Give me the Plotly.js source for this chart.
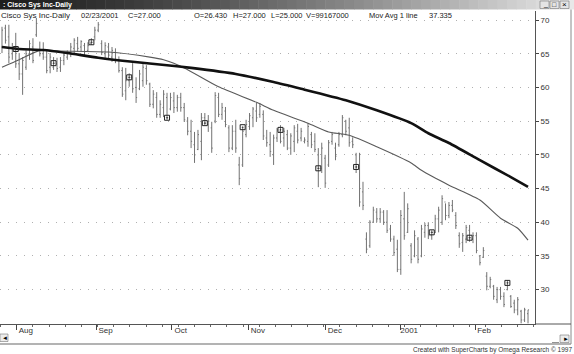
<!DOCTYPE html>
<html>
<head>
<meta charset="utf-8">
<script src="https://cdn.plot.ly/plotly-3.0.1.min.js"></script>
<style>html,body{margin:0;padding:0;background:#fff;}#chart{width:574px;height:354px;}</style>
</head>
<body>
<div id="chart"></div>
<script>
// ---- Data ----
const highs = [69.0,69.3,69.3,66.6,68.1,65.1,64.5,65.5,67.0,67.3,70.3,66.8,66.7,65.5,65.1,64.5,64.4,64.5,65.1,65.5,
66.6,67.3,67.5,67.0,66.6,66.7,67.3,69.0,69.7,67.0,66.7,66.6,66.0,65.8,64.6,63.0,62.9,62.1,63.6,61.5,
62.6,63.6,63.3,60.7,59.6,59.3,58.1,59.6,59.2,59.2,59.3,58.9,59.2,57.7,55.6,55.2,53.4,53.7,56.2,56.2,
55.9,54.9,59.3,59.2,57.7,57.1,54.4,54.4,55.2,49.7,54.1,55.2,56.2,57.1,57.7,57.7,56.6,53.7,53.4,53.0,
54.0,54.4,54.0,53.7,53.2,54.4,54.6,54.0,52.6,54.7,53.4,53.2,51.0,51.8,50.0,52.2,53.4,51.8,53.4,55.9,
55.2,55.5,52.6,50.3,50.3,46.0,38.5,40.3,42.3,42.1,42.1,41.8,41.8,39.6,38.0,37.4,41.8,44.5,42.8,36.9,
38.8,37.8,39.6,39.9,40.0,38.8,41.1,42.3,44.0,42.8,43.0,43.3,41.5,38.5,38.4,39.6,39.6,38.5,38.5,35.1,
36.3,32.6,31.9,30.7,30.4,30.4,29.6,31.4,29.2,28.5,28.9,27.0,27.3,27.0];
const lows = [65.1,66.5,63.6,64.1,62.9,61.1,58.9,62.6,64.1,63.6,67.5,64.6,64.1,62.1,62.1,62.6,62.3,62.3,63.3,64.1,
64.5,65.1,65.3,65.3,64.8,65.3,66.3,67.0,68.2,64.8,64.1,64.1,63.8,63.6,62.2,58.6,58.1,60.1,59.2,57.7,
59.6,60.1,60.4,57.1,56.9,55.5,55.5,55.6,55.2,56.6,56.2,56.4,56.4,54.9,52.9,51.0,48.8,50.7,49.2,54.4,
53.4,50.3,54.7,55.6,55.2,54.1,50.4,50.7,50.3,45.5,48.2,52.6,53.7,54.1,54.9,55.5,52.2,51.2,49.7,48.5,
51.9,51.7,51.2,50.7,50.0,50.4,51.7,52.0,51.7,51.2,51.0,50.4,45.2,47.3,45.1,48.2,51.5,49.2,51.2,52.6,
52.9,51.2,51.0,47.3,42.3,41.8,35.4,36.2,39.9,40.0,39.9,39.6,38.4,37.1,35.0,32.6,32.2,37.4,38.4,33.9,
34.8,33.9,34.8,37.7,37.5,37.4,38.4,38.5,39.6,40.3,40.6,41.5,39.0,36.2,35.6,36.9,37.1,36.9,35.4,33.6,
34.7,29.9,30.2,28.5,28.0,28.5,27.4,29.9,27.3,26.5,26.2,25.0,25.2,25.0];
const opens = [66.0,68.8,67.5,65.0,65.5,63.5,62.0,63.0,65.0,66.0,67.8,65.5,65.0,64.5,63.0,63.0,63.5,63.0,64.0,64.5,
65.0,65.8,66.5,66.0,66.2,65.5,66.5,67.5,68.5,66.5,65.0,66.0,64.5,65.2,64.0,62.5,59.5,61.0,61.5,60.0,
59.8,61.0,62.8,60.5,57.5,58.5,56.0,57.0,58.5,56.8,58.0,57.0,58.5,57.0,55.0,53.5,51.5,50.8,52.0,55.5,
54.5,54.0,55.0,58.5,56.0,56.5,54.0,51.0,53.5,48.5,48.5,53.0,54.2,55.5,56.5,56.0,56.0,52.5,51.5,50.0,
52.5,53.5,52.5,53.0,51.0,52.0,53.5,52.5,52.0,52.0,53.0,52.0,50.0,48.0,49.5,48.5,52.0,51.0,51.5,53.0,
55.0,54.0,52.0,50.0,48.0,44.5,37.5,36.5,40.0,41.5,40.5,41.5,40.0,39.0,37.5,36.0,33.0,40.5,38.5,36.5,
35.0,37.5,35.0,38.5,39.5,38.0,38.5,40.5,40.0,43.0,41.0,42.5,41.0,38.0,37.0,37.5,38.8,37.5,38.0,35.0,
34.8,32.0,30.5,30.5,28.5,30.0,29.0,30.0,29.0,28.0,27.0,26.8,25.5,26.43];
const closes = [68.5,67.0,64.5,65.7,63.5,62.0,64.0,65.0,66.5,64.0,69.5,65.0,64.5,62.5,64.5,63.6,62.8,64.0,64.8,65.2,
66.0,67.0,65.8,66.8,65.3,66.2,66.7,68.5,69.3,65.2,66.2,64.8,65.5,64.0,62.5,59.0,61.0,61.5,59.8,58.5,
62.0,63.0,61.0,57.5,59.0,56.0,57.5,59.0,55.5,58.5,57.0,58.5,57.0,55.2,53.5,52.0,50.0,53.0,55.5,54.7,
55.0,51.0,58.8,56.0,57.0,54.5,51.0,53.5,51.0,46.5,53.5,54.5,55.8,56.8,55.5,57.2,52.8,51.8,50.5,52.5,
53.7,52.0,53.5,51.0,52.8,54.0,52.2,53.5,52.2,54.2,51.5,50.8,48.0,51.0,45.8,51.8,53.0,49.8,53.0,55.5,
53.5,51.8,51.5,48.2,43.0,42.5,36.0,40.0,41.8,40.5,41.5,40.0,38.8,37.5,35.5,33.0,41.0,38.0,42.0,34.5,
38.0,34.5,39.0,39.5,38.0,38.5,40.5,41.8,43.5,41.0,42.5,41.8,39.5,36.8,38.0,39.2,37.7,38.0,35.8,34.0,
35.8,30.5,31.5,29.0,30.0,29.0,27.8,31.0,27.5,27.0,28.5,25.5,27.0,27.0];

// Moving averages, sampled along the drawn lines (bar index, price)
const thickMaIdx = [0,5,12,19,28,38,48,55,68,79,87,100,109,119,124,130,139,148,153];
const thickMaVal = [66.0,65.7,65.55,65.1,64.4,63.8,63.3,62.9,62.0,60.8,59.8,58.1,56.6,54.7,53.2,51.75,49.2,46.7,45.26];
const thinMaIdx = [0,5,11,17,31,43,47,53,63,74,79,89,95,101,109,119,122,130,139,145,150,153];
const thinMaVal = [63.0,64.1,65.5,65.4,65.25,64.5,64.1,62.9,60.1,57.8,56.6,54.7,53.4,52.9,51.2,48.8,47.7,45.5,43.3,40.6,39.1,37.335];

// Small square signal markers on bars
const markIdx = [4,15,26,37,48,59,70,81,92,103,125,136,147];
const markVal = [65.7,63.6,66.7,61.5,55.5,54.7,54.1,53.7,48.0,48.2,38.5,37.7,31.0];

// Axis labels
const monthLabels = ['Aug','Sep','Oct','Nov','Dec','2001','Feb'];
const monthPos = [4.3,27.5,49.4,71.8,94.2,115.8,137.6];
const priceTicks = [30,35,40,45,50,55,60,65,70];

// ---- Build ----
const idx = highs.map((_, i) => i);
const FONT = 'Liberation Sans, Arial, sans-serif';
const PX = x => x / 535;
const PY = y => (324 - y) / 313;

const traces = [
  {type:'ohlc', x: idx, open: opens, high: highs, low: lows, close: closes,
   increasing:{line:{color:'#727272', width:1}}, decreasing:{line:{color:'#727272', width:1}},
   tickwidth:0.3, hoverinfo:'skip', showlegend:false},
  {type:'scatter', mode:'lines', x: thinMaIdx, y: thinMaVal,
   line:{color:'#5a5a5a', width:1.1, shape:'spline', smoothing:0.6}, hoverinfo:'skip', showlegend:false},
  {type:'scatter', mode:'lines', x: thickMaIdx, y: thickMaVal,
   line:{color:'#111', width:2.6, shape:'spline', smoothing:0.6}, hoverinfo:'skip', showlegend:false},
  {type:'scatter', mode:'markers', x: markIdx, y: markVal,
   marker:{symbol:'square-open-dot', size:5, color:'#222', line:{width:1, color:'#222'}},
   hoverinfo:'skip', showlegend:false}
];

const shapes = [];
// title bar gradient
const nSeg = 60;
for (let k = 0; k < nSeg; k++) {
  const t = k / (nSeg - 1);
  const c = Math.round(30 + (232 - 30) * Math.pow(t, 1.3));
  shapes.push({type:'rect', xref:'paper', yref:'paper', layer:'above',
    x0: PX(574 * k / nSeg), x1: PX(574 * (k + 1) / nSeg + 0.5), y0: PY(9.5), y1: PY(0),
    fillcolor:`rgb(${c},${c},${c})`, line:{width:0}});
}
// window buttons
[[540,549],[550,559],[560,569]].forEach(b => shapes.push({type:'rect', xref:'paper', yref:'paper',
  x0:PX(b[0]), x1:PX(b[1]), y0:PY(8.5), y1:PY(1), fillcolor:'#e4e4e4', line:{color:'#777', width:0.6}}));
// right window border
shapes.push({type:'line', xref:'paper', yref:'paper', x0:PX(571), x1:PX(571), y0:PY(344), y1:PY(9.5),
  line:{color:'#8a8a8a', width:1}});
// bottom axis line extension to the frame
shapes.push({type:'line', xref:'paper', yref:'paper', x0:PX(535), x1:PX(571), y0:PY(324), y1:PY(324),
  line:{color:'#555', width:1}});
// scrollbar
shapes.push({type:'line', xref:'paper', yref:'paper', x0:PX(0), x1:PX(571), y0:PY(344), y1:PY(344),
  line:{color:'#9a9a9a', width:1.5}});
shapes.push({type:'rect', xref:'paper', yref:'paper', x0:PX(0), x1:PX(8), y0:PY(341.5), y1:PY(334),
  fillcolor:'#ececec', line:{color:'#777', width:0.6}});
shapes.push({type:'rect', xref:'paper', yref:'paper', x0:PX(560), x1:PX(569), y0:PY(342.5), y1:PY(335),
  fillcolor:'#ececec', line:{color:'#777', width:0.6}});
shapes.push({type:'line', xref:'paper', yref:'paper', x0:PX(552), x1:PX(559), y0:PY(342.5), y1:PY(342.5),
  line:{color:'#777', width:0.8}});

function ann(text, x, y, size, color, extra) {
  return Object.assign({text, xref:'paper', yref:'paper', x: PX(x), y: PY(y), xanchor:'left', yanchor:'middle',
    showarrow:false, font:{family:FONT, size, color}, borderpad:0}, extra || {});
}
const HS = 7.5;
const annotations = [
  ann('<b>: Cisco Sys Inc-Daily</b>', 2, 5, 7, '#ffffff'),
  ann('_', 542, 4, 7, '#000'),
  ann('□', 551, 5, 7, '#000'),
  ann('×', 561, 5, 8, '#000'),
  ann('Cisco Sys Inc-Daily', 0, 15.5, 8, '#222'),
  ann('02/23/2001', 80, 15.5, HS, '#222'),
  ann('C=27.000', 127, 15.5, HS, '#222'),
  ann('O=26.430', 193, 15.5, HS, '#222'),
  ann('H=27.000', 232, 15.5, HS, '#222'),
  ann('L=25.000', 270, 15.5, HS, '#222'),
  ann('V=99167000', 305, 15.5, HS, '#222'),
  ann('Mov Avg 1 line', 368, 15.5, HS, '#222'),
  ann('37.335', 428, 15.5, HS, '#222'),
  ann('◄', 0.5, 338, 6, '#000'),
  ann('►', 561.5, 339, 6, '#000'),
  ann('Created with SuperCharts by Omega Research © 1997', 573, 349.5, 6.5, '#333', {xanchor:'right'})
];

const layout = {
  width:574, height:354,
  margin:{l:0, r:39, t:11, b:30, pad:0},
  paper_bgcolor:'#ffffff', plot_bgcolor:'#ffffff',
  font:{family:FONT, size:8, color:'#333'},
  showlegend:false,
  hovermode:false,
  xaxis:{
    range:[-0.58, 155.03], fixedrange:true,
    tickmode:'array', tickvals: monthPos, ticktext: monthLabels,
    ticks:'outside', ticklen:5, tickcolor:'#444', tickwidth:1,
    ticklabelshift:9, ticklabelstandoff:-7,
    tickfont:{family:FONT, size:8, color:'#333'},
    showline:true, linecolor:'#555', linewidth:1,
    showgrid:false, zeroline:false,
    minor:{tickmode:'linear', tick0:4.3, dtick:4.7, ticks:'outside', ticklen:2, tickcolor:'#666', showgrid:false},
    rangeslider:{visible:false}
  },
  yaxis:{
    side:'right', range:[24.90, 71.34], fixedrange:true,
    tickmode:'array', tickvals: priceTicks, ticktext: priceTicks.map(String),
    ticks:'outside', ticklen:3, tickcolor:'#444',
    tickfont:{family:FONT, size:8, color:'#333'},
    showline:true, linecolor:'#555', linewidth:1,
    showgrid:true, gridcolor:'#b0b0b0', griddash:'1px,7px', gridwidth:1,
    zeroline:false
  },
  shapes, annotations
};

Plotly.newPlot('chart', traces, layout, {staticPlot:true, displayModeBar:false});
</script>
</body>
</html>
